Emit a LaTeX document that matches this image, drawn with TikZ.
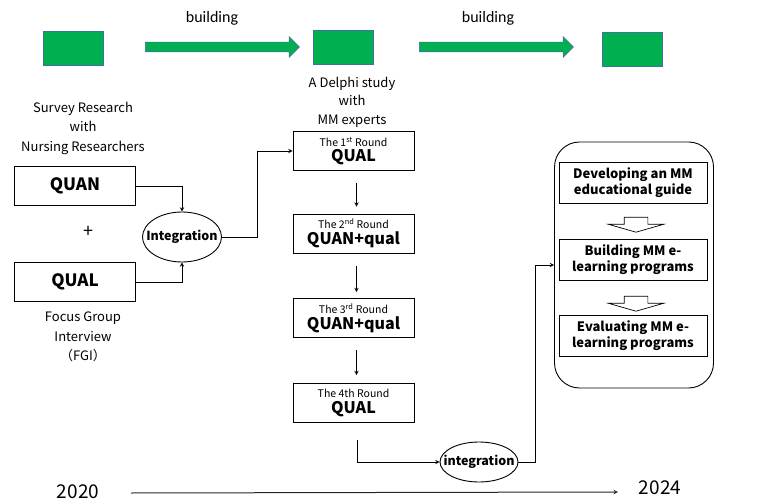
\documentclass[tikz,border=0pt]{standalone}
\usepackage{fontspec}
\setmainfont{Noto Sans CJK JP}
\newfontfamily\calfont{Carlito}
\usetikzlibrary{shapes.geometric,shapes.arrows}
\definecolor{boxgreen}{HTML}{00B050}
\definecolor{boxedge}{HTML}{41719C}

\begin{document}
\begin{tikzpicture}[x=1pt,y=-1pt,>=stealth,line width=0.9pt,
    green node/.style={rectangle,fill=boxgreen,draw=boxedge,line width=0.6pt,minimum width=60,minimum height=34},
    green arrow/.style={single arrow,fill=boxgreen,draw=boxedge,line width=0.6pt,minimum height=154,inner xsep=0,inner ysep=4.5,single arrow head extend=5.5},
    method node/.style={rectangle,draw,minimum width=121,minimum height=39,font=\fontsize{17}{19}\selectfont\bfseries},
    round node/.style={rectangle,draw,minimum width=121,minimum height=39,align=center,inner sep=1,font=\fontsize{10.5}{12}\selectfont},
    step node/.style={rectangle,draw,minimum width=148,minimum height=41,align=center,font=\fontsize{13}{16}\selectfont\bfseries},
    hollow arrow/.style={single arrow,draw,fill=white,shape border rotate=270,minimum height=15,inner xsep=11.5,inner ysep=0,single arrow head extend=16,single arrow tip angle=148,line width=0.7pt},
    int node/.style={ellipse,draw,inner sep=0,font=\fontsize{12.5}{14}\selectfont\bfseries}]

    \useasboundingbox (0,0) rectangle (762,502);

    % top row
    \node[green node] (g1) at (73,48) {};
    \node[green node] (g2) at (343,47) {};
    \node[green node] (g3) at (632,49) {};
    \node[green arrow] (ga1) at (220,47) {};
    \node[green arrow] (ga2) at (494,47) {};
    \node[font=\calfont\fontsize{16}{18}\selectfont] (build1) at (212,18) {building};
    \node[font=\calfont\fontsize{16}{18}\selectfont] (build2) at (488,18) {building};

    % survey + focus group
    \node[align=center,font=\fontsize{13}{19.5}\selectfont] (survey) at (83,128) {Survey Research\\with\\Nursing Researchers};
    \node[method node] (quan) at (75,186) {QUAN};
    \node[font=\fontsize{18}{20}\selectfont] (plus) at (88,232) {+};
    \node[method node] (qual) at (75,282) {QUAL};
    \node[align=center,font=\fontsize{13}{19.5}\selectfont] (fgi) at (83,337) {Focus Group\\Interview\\（FGI）};
    \node[int node,minimum width=79,minimum height=50] (intA) at (182,237) {\makebox[0pt]{Integration}};

    \draw[->] (quan) -| (intA);
    \draw[->] (qual) -| (intA);

    % Delphi rounds
    \node[align=center,font=\fontsize{13}{18.5}\selectfont] (delphi) at (352,102) {A Delphi study\\with\\MM experts};
    \node[round node] (r1) at (353.5,151) {The 1\textsuperscript{st} Round\\[2pt]{\fontsize{16}{16}\selectfont\bfseries QUAL}};
    \node[round node] (r2) at (353.5,233.5) {The 2\textsuperscript{nd} Round\\[2pt]{\fontsize{16}{16}\selectfont\bfseries QUAN+qual}};
    \node[round node] (r3) at (353.5,318) {The 3\textsuperscript{rd} Round\\[2pt]{\fontsize{16}{16}\selectfont\bfseries QUAN+qual}};
    \node[round node] (r4) at (353.5,403) {The 4th Round\\[2pt]{\fontsize{16}{16}\selectfont\bfseries QUAL}};

    \coordinate (jA) at (257,237);
    \draw[->] (intA) -- (jA) |- (r1);
    \draw[->,shorten <=12pt,shorten >=7pt] ([xshift=3]r1.south) -- ([xshift=3]r2.north);
    \draw[->,shorten <=13pt,shorten >=6pt] ([xshift=3]r2.south) -- ([xshift=3]r3.north);
    \draw[->,shorten <=12pt,shorten >=8pt] ([xshift=3]r3.south) -- ([xshift=3]r4.north);

    % e-learning plan
    \node[draw,rounded corners=25,minimum width=159,minimum height=246] (plan) at (634,265) {};
    \node[step node] (dev) at (633,182.5) {Developing an MM\\educational guide};
    \node[step node] (bld) at (633,260) {Building MM e-\\learning programs};
    \node[step node] (eva) at (633,335.5) {Evaluating MM e-\\learning programs};
    \node[hollow arrow] (ha1) at (636,223) {};
    \node[hollow arrow] (ha2) at (636,302) {};

    \node[int node,minimum width=78,minimum height=40] (intB) at (479,462) {\makebox[0pt]{integration}};
    \coordinate (c4) at (357,440);
    \coordinate (jB) at (535,462);
    \draw[->] (c4) |- (intB);
    \draw[->] (intB) -- (jB) |- (plan);

    % timeline
    \node[font=\fontsize{19}{21}\selectfont] (y2020) at (78,492) {2020};
    \node[font=\fontsize{19}{21}\selectfont] (y2024) at (660,488) {2024};
    \draw[->,line width=1pt,gray!30!black] (131,493) -- (618,492);
\end{tikzpicture}
\end{document}
